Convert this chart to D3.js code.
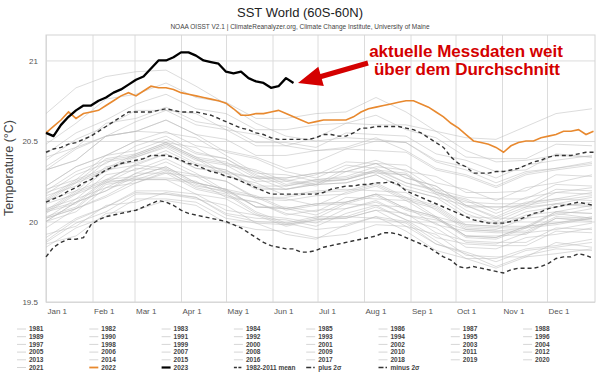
<!DOCTYPE html>
<html>
<head>
<meta charset="utf-8">
<script src="https://cdn.jsdelivr.net/npm/d3@7"></script>
<style>
    body { margin: 0; background: #fff; }
    svg { display: block; font-family: "Liberation Sans", Arial, sans-serif; }
</style>
</head>
<body>
<svg id="chart" width="600" height="382"></svg>
<script>
// month starts (day of year) and their labels
var monthDays = [0, 31, 59, 90, 120, 151, 181, 212, 243, 273, 304, 334];
var monthLabels = ["Jan 1", "Feb 1", "Mar 1", "Apr 1", "May 1", "Jun 1",
    "Jul 1", "Aug 1", "Sep 1", "Oct 1", "Nov 1", "Dec 1"];
var yTicks = [19.5, 20, 20.5, 21];

// sampling days: every 5 days for the highlighted series, ~20 days for the old years
var fineDays = d3.range(0, 366, 5);
var coarseDays = [0, 20, 40, 60, 80, 100, 120, 140, 160, 180, 200, 220, 240, 260, 280, 300, 320, 340, 364];

var meanValues = [20.12, 20.14, 20.16, 20.19, 20.21, 20.24, 20.26, 20.29, 20.32, 20.34,
    20.36, 20.37, 20.38, 20.39, 20.41, 20.41, 20.41, 20.40, 20.38, 20.36,
    20.35, 20.33, 20.31, 20.30, 20.28, 20.27, 20.25, 20.23, 20.21, 20.19,
    20.17, 20.17, 20.17, 20.17, 20.17, 20.17, 20.17, 20.18, 20.20, 20.21,
    20.22, 20.22, 20.23, 20.23, 20.24, 20.24, 20.245, 20.23, 20.19, 20.17,
    20.15, 20.13, 20.11, 20.09, 20.07, 20.05, 20.03, 20.01, 20.00, 19.99,
    19.99, 19.99, 20.00, 20.01, 20.03, 20.05, 20.06, 20.08, 20.09, 20.10,
    20.11, 20.12, 20.11, 20.10];

var plus2sd = [20.43, 20.45, 20.46, 20.48, 20.49, 20.51, 20.53, 20.56, 20.59, 20.62,
    20.65, 20.68, 20.68, 20.68, 20.68, 20.69, 20.70, 20.69, 20.68, 20.68,
    20.68, 20.67, 20.66, 20.64, 20.62, 20.60, 20.58, 20.57, 20.55, 20.54,
    20.52, 20.51, 20.51, 20.51, 20.51, 20.51, 20.52, 20.54, 20.54, 20.53,
    20.53, 20.55, 20.58, 20.58, 20.59, 20.59, 20.59, 20.59, 20.58, 20.57,
    20.55, 20.52, 20.49, 20.46, 20.40, 20.36, 20.34, 20.30, 20.30, 20.30,
    20.31, 20.31, 20.32, 20.33, 20.35, 20.37, 20.38, 20.40, 20.41, 20.41,
    20.41, 20.42, 20.43, 20.43];

var minus2sd = [19.78, 19.84, 19.87, 19.89, 19.89, 19.90, 19.98, 20.01, 20.03, 20.04,
    20.05, 20.06, 20.07, 20.09, 20.11, 20.13, 20.12, 20.10, 20.07, 20.05,
    20.04, 20.03, 20.02, 20.01, 20.00, 19.98, 19.96, 19.93, 19.90, 19.87,
    19.85, 19.84, 19.83, 19.83, 19.81, 19.81, 19.82, 19.84, 19.85, 19.86,
    19.87, 19.88, 19.89, 19.90, 19.91, 19.93, 19.93, 19.92, 19.90, 19.88,
    19.86, 19.84, 19.81, 19.78, 19.76, 19.72, 19.71, 19.72, 19.71, 19.70,
    19.69, 19.68, 19.70, 19.71, 19.71, 19.71, 19.72, 19.74, 19.77, 19.78,
    19.78, 19.80, 19.79, 19.77];

var values2022 = [20.55, 20.59, 20.63, 20.68, 20.64, 20.67, 20.68, 20.69, 20.72, 20.75,
    20.78, 20.80, 20.78, 20.81, 20.84, 20.83, 20.83, 20.82, 20.80, 20.79,
    20.78, 20.77, 20.76, 20.75, 20.735, 20.70, 20.66, 20.66, 20.67, 20.67,
    20.68, 20.69, 20.67, 20.65, 20.63, 20.61, 20.62, 20.63, 20.63, 20.63,
    20.63, 20.65, 20.68, 20.70, 20.71, 20.72, 20.73, 20.74, 20.75, 20.75,
    20.73, 20.71, 20.68, 20.65, 20.61, 20.58, 20.54, 20.50, 20.49, 20.48,
    20.46, 20.43, 20.47, 20.49, 20.50, 20.50, 20.52, 20.53, 20.54, 20.56,
    20.56, 20.57, 20.54, 20.56];

var values2023 = [20.55, 20.53, 20.60, 20.65, 20.69, 20.72, 20.72, 20.75, 20.77, 20.80,
    20.82, 20.85, 20.88, 20.90, 20.95, 21.00, 21.00, 21.02, 21.05, 21.05,
    21.03, 21.00, 20.99, 20.98, 20.93, 20.92, 20.93, 20.89, 20.87, 20.86,
    20.83, 20.84, 20.89, 20.86];

var grayYears = d3.range(1981, 2022);
var grayValues = [
    [19.92, 19.97, 20.10, 20.12, 20.18, 20.15, 20.04, 20.00, 19.99, 19.95, 19.97, 20.03, 20.00, 19.88, 19.77, 19.77, 19.83, 19.85, 19.89],
    [19.88, 20.01, 20.09, 20.19, 20.19, 20.17, 20.07, 20.04, 20.02, 19.99, 20.08, 20.12, 20.04, 20.01, 19.95, 19.94, 19.96, 20.06, 20.05],
    [20.07, 20.19, 20.26, 20.35, 20.33, 20.23, 20.18, 20.06, 19.99, 20.03, 20.03, 20.02, 19.99, 19.86, 19.80, 19.72, 19.79, 19.83, 19.82],
    [19.84, 19.96, 20.03, 20.14, 20.14, 20.12, 20.02, 19.99, 19.92, 19.89, 19.98, 20.03, 19.94, 19.82, 19.77, 19.71, 19.78, 19.80, 19.83],
    [19.86, 19.91, 20.05, 20.07, 20.13, 20.10, 19.99, 19.95, 19.94, 19.90, 19.92, 19.98, 19.97, 19.86, 19.81, 19.75, 19.82, 19.84, 19.87],
    [19.90, 20.02, 20.09, 20.18, 20.17, 20.14, 20.10, 19.99, 19.98, 20.01, 20.02, 20.07, 20.05, 19.93, 19.88, 19.87, 19.87, 19.96, 19.95],
    [20.00, 20.12, 20.19, 20.30, 20.30, 20.28, 20.18, 20.15, 20.14, 20.10, 20.18, 20.23, 20.14, 20.09, 19.97, 19.96, 19.96, 20.05, 20.02],
    [20.06, 20.11, 20.25, 20.26, 20.32, 20.21, 20.17, 20.05, 19.98, 20.02, 20.02, 20.07, 19.97, 19.92, 19.79, 19.78, 19.78, 19.87, 19.84],
    [19.87, 19.99, 20.06, 20.17, 20.17, 20.15, 20.05, 20.02, 20.01, 19.97, 20.05, 20.10, 20.01, 19.96, 19.84, 19.83, 19.90, 19.92, 19.96],
    [20.00, 20.06, 20.21, 20.24, 20.31, 20.22, 20.19, 20.09, 20.09, 20.06, 20.15, 20.14, 20.13, 20.02, 19.91, 19.91, 19.92, 20.02, 20.00],
    [20.03, 20.09, 20.24, 20.27, 20.27, 20.25, 20.15, 20.12, 20.05, 20.02, 20.11, 20.10, 20.09, 19.98, 19.94, 19.93, 19.93, 20.02, 20.01],
    [20.02, 20.08, 20.16, 20.26, 20.26, 20.17, 20.14, 20.04, 19.97, 20.01, 20.03, 20.09, 20.01, 19.90, 19.86, 19.85, 19.85, 19.94, 19.93],
    [19.96, 20.08, 20.15, 20.24, 20.30, 20.20, 20.16, 20.12, 20.04, 20.07, 20.08, 20.13, 20.04, 19.99, 19.87, 19.86, 19.93, 19.95, 19.99],
    [20.00, 20.12, 20.19, 20.28, 20.34, 20.24, 20.20, 20.09, 20.08, 20.11, 20.12, 20.17, 20.15, 20.03, 19.98, 19.97, 19.97, 20.06, 20.05],
    [20.08, 20.14, 20.29, 20.32, 20.39, 20.30, 20.19, 20.15, 20.07, 20.10, 20.11, 20.16, 20.07, 20.02, 19.90, 19.89, 19.96, 19.98, 20.02],
    [20.02, 20.08, 20.23, 20.26, 20.26, 20.24, 20.20, 20.09, 20.08, 20.04, 20.12, 20.17, 20.08, 20.03, 19.91, 19.90, 19.97, 19.99, 20.03],
    [20.06, 20.18, 20.25, 20.36, 20.42, 20.33, 20.31, 20.27, 20.26, 20.23, 20.33, 20.38, 20.31, 20.28, 20.18, 20.18, 20.19, 20.29, 20.28],
    [20.32, 20.45, 20.53, 20.56, 20.63, 20.54, 20.43, 20.39, 20.31, 20.27, 20.35, 20.33, 20.24, 20.19, 20.07, 20.00, 20.08, 20.11, 20.09],
    [20.07, 20.12, 20.26, 20.28, 20.34, 20.24, 20.20, 20.16, 20.08, 20.11, 20.12, 20.17, 20.08, 20.03, 19.91, 19.90, 19.97, 19.99, 20.02],
    [20.05, 20.17, 20.24, 20.33, 20.32, 20.29, 20.25, 20.14, 20.13, 20.16, 20.17, 20.22, 20.13, 20.08, 19.96, 19.95, 20.02, 20.04, 20.08],
    [20.12, 20.24, 20.31, 20.40, 20.46, 20.36, 20.32, 20.21, 20.20, 20.23, 20.24, 20.29, 20.20, 20.15, 20.10, 20.02, 20.09, 20.11, 20.15],
    [20.16, 20.22, 20.37, 20.40, 20.47, 20.38, 20.35, 20.25, 20.25, 20.22, 20.31, 20.30, 20.29, 20.18, 20.14, 20.07, 20.15, 20.18, 20.21],
    [20.22, 20.34, 20.41, 20.50, 20.49, 20.46, 20.35, 20.31, 20.23, 20.26, 20.27, 20.32, 20.30, 20.18, 20.13, 20.05, 20.12, 20.14, 20.18],
    [20.18, 20.24, 20.39, 20.42, 20.49, 20.40, 20.30, 20.27, 20.20, 20.24, 20.26, 20.32, 20.24, 20.20, 20.09, 20.09, 20.10, 20.13, 20.16],
    [20.17, 20.29, 20.36, 20.47, 20.53, 20.43, 20.39, 20.28, 20.27, 20.30, 20.31, 20.36, 20.27, 20.22, 20.10, 20.03, 20.11, 20.14, 20.13],
    [20.13, 20.19, 20.34, 20.37, 20.44, 20.35, 20.32, 20.22, 20.22, 20.25, 20.26, 20.31, 20.29, 20.17, 20.12, 20.11, 20.11, 20.20, 20.19],
    [20.19, 20.31, 20.38, 20.41, 20.48, 20.39, 20.28, 20.24, 20.16, 20.19, 20.20, 20.19, 20.18, 20.07, 19.95, 19.94, 19.94, 20.03, 20.02],
    [20.02, 20.14, 20.21, 20.30, 20.37, 20.28, 20.25, 20.15, 20.15, 20.18, 20.19, 20.24, 20.15, 20.10, 19.98, 19.97, 20.04, 20.06, 20.10],
    [20.13, 20.25, 20.32, 20.41, 20.48, 20.39, 20.36, 20.32, 20.25, 20.29, 20.37, 20.36, 20.35, 20.24, 20.20, 20.13, 20.21, 20.24, 20.29],
    [20.32, 20.38, 20.53, 20.56, 20.55, 20.52, 20.41, 20.30, 20.29, 20.25, 20.26, 20.31, 20.22, 20.17, 20.05, 19.98, 20.06, 20.09, 20.12],
    [20.11, 20.17, 20.32, 20.35, 20.42, 20.33, 20.30, 20.20, 20.20, 20.23, 20.24, 20.29, 20.20, 20.15, 20.03, 20.02, 20.02, 20.11, 20.10],
    [20.14, 20.26, 20.33, 20.42, 20.49, 20.40, 20.37, 20.27, 20.27, 20.30, 20.31, 20.36, 20.27, 20.22, 20.10, 20.09, 20.09, 20.18, 20.17],
    [20.20, 20.26, 20.41, 20.44, 20.51, 20.42, 20.39, 20.29, 20.22, 20.26, 20.28, 20.34, 20.32, 20.20, 20.15, 20.14, 20.14, 20.23, 20.22],
    [20.22, 20.34, 20.41, 20.50, 20.56, 20.47, 20.44, 20.40, 20.33, 20.37, 20.45, 20.44, 20.43, 20.32, 20.28, 20.21, 20.29, 20.32, 20.35],
    [20.34, 20.46, 20.53, 20.62, 20.69, 20.60, 20.57, 20.54, 20.47, 20.52, 20.61, 20.60, 20.60, 20.56, 20.52, 20.51, 20.59, 20.67, 20.70],
    [20.67, 20.83, 20.90, 20.93, 20.94, 20.84, 20.73, 20.61, 20.53, 20.50, 20.52, 20.51, 20.49, 20.37, 20.32, 20.24, 20.31, 20.33, 20.37],
    [20.38, 20.51, 20.59, 20.69, 20.69, 20.67, 20.57, 20.47, 20.47, 20.44, 20.46, 20.52, 20.44, 20.33, 20.29, 20.22, 20.30, 20.33, 20.36],
    [20.32, 20.38, 20.53, 20.56, 20.63, 20.54, 20.51, 20.41, 20.41, 20.44, 20.45, 20.50, 20.49, 20.38, 20.34, 20.27, 20.35, 20.38, 20.41],
    [20.42, 20.55, 20.63, 20.73, 20.79, 20.70, 20.67, 20.57, 20.57, 20.60, 20.61, 20.66, 20.57, 20.52, 20.40, 20.39, 20.39, 20.48, 20.47],
    [20.48, 20.61, 20.76, 20.79, 20.86, 20.77, 20.74, 20.64, 20.64, 20.67, 20.68, 20.77, 20.68, 20.56, 20.44, 20.37, 20.38, 20.41, 20.40],
    [20.40, 20.46, 20.61, 20.64, 20.71, 20.62, 20.59, 20.49, 20.49, 20.46, 20.55, 20.54, 20.53, 20.42, 20.38, 20.31, 20.32, 20.42, 20.40]
];

var svg = d3.select("#chart");
var plotLeft = 46, plotRight = 595, plotTop = 35, plotBottom = 302;
var x = d3.scaleLinear().domain([0, 366]).range([plotLeft, plotRight]);
var y = d3.scaleLinear().domain([19.5, 21.158]).range([plotBottom, plotTop]);

function lineOn(days) {
    return d3.line()
        .x(function (d, i) { return x(days[i]); })
        .y(function (d) { return y(d); });
}

// titles
svg.append("text")
    .attr("x", 300).attr("y", 17)
    .attr("text-anchor", "middle")
    .attr("font-size", 13)
    .attr("fill", "#222")
    .text("SST World (60S-60N)");
svg.append("text")
    .attr("x", 300).attr("y", 29)
    .attr("text-anchor", "middle")
    .attr("font-size", 6.5)
    .attr("fill", "#444")
    .text("NOAA OISST V2.1 | ClimateReanalyzer.org, Climate Change Institute, University of Maine");

// axes with grid lines
var xAxis = svg.append("g")
    .attr("transform", "translate(0," + plotBottom + ")")
    .call(d3.axisBottom(x)
        .tickValues(monthDays)
        .tickFormat(function (d, i) { return monthLabels[i]; })
        .tickSize(-(plotBottom - plotTop))
        .tickPadding(6.5));
var yAxis = svg.append("g")
    .attr("transform", "translate(" + plotLeft + ",0)")
    .call(d3.axisLeft(y)
        .tickValues(yTicks)
        .tickFormat(d3.format(""))
        .tickSize(-(plotRight - plotLeft))
        .tickPadding(8));
svg.selectAll(".domain").remove();
svg.selectAll(".tick line").attr("stroke", "#dcdcdc");
svg.selectAll(".tick text")
    .attr("font-family", "'Liberation Sans', Arial, sans-serif")
    .attr("font-size", 8)
    .attr("fill", "#555");
xAxis.selectAll(".tick text").attr("text-anchor", "start").attr("dx", 1);

svg.append("rect")
    .attr("x", plotLeft).attr("y", plotTop)
    .attr("width", plotRight - plotLeft).attr("height", plotBottom - plotTop)
    .attr("fill", "none")
    .attr("stroke", "#d4d4d4");

svg.append("text")
    .attr("transform", "translate(13," + 168 + ") rotate(-90)")
    .attr("text-anchor", "middle")
    .attr("font-size", 12.5)
    .attr("fill", "#444")
    .text("Temperature (°C)");

// old years
svg.append("g")
    .selectAll("path")
    .data(grayValues)
    .join("path")
    .attr("d", lineOn(coarseDays))
    .attr("fill", "none")
    .attr("stroke", "#bcbcbc")
    .attr("stroke-opacity", 0.75)
    .attr("stroke-width", 0.7);

// mean and +/- 2 sigma
[meanValues, plus2sd, minus2sd].forEach(function (vals) {
    svg.append("path")
        .attr("d", lineOn(fineDays)(vals))
        .attr("fill", "none")
        .attr("stroke", "#333")
        .attr("stroke-width", 1.4)
        .attr("stroke-dasharray", "4,3");
});

svg.append("path")
    .attr("d", lineOn(fineDays)(values2022))
    .attr("fill", "none")
    .attr("stroke", "#e8892f")
    .attr("stroke-width", 1.6);

svg.append("path")
    .attr("d", lineOn(fineDays)(values2023))
    .attr("fill", "none")
    .attr("stroke", "#000")
    .attr("stroke-width", 2.3)
    .attr("stroke-linejoin", "round");

// annotation
var red = "#d40000";
var tipX = x(168), tipY = y(20.86);
var tail = [tipX + 70, tipY - 20];
var len = Math.hypot(tail[0] - tipX, tail[1] - tipY);
var ux = (tail[0] - tipX) / len, uy = (tail[1] - tipY) / len;
var nx = -uy, ny = ux;
var headL = 24, headW = 10, shaftW = 2.6;
var bx = tipX + ux * headL, by = tipY + uy * headL;
svg.append("polygon")
    .attr("points", [
        [tipX, tipY],
        [bx + nx * headW, by + ny * headW],
        [bx + nx * shaftW, by + ny * shaftW],
        [tail[0] + nx * shaftW, tail[1] + ny * shaftW],
        [tail[0] - nx * shaftW, tail[1] - ny * shaftW],
        [bx - nx * shaftW, by - ny * shaftW],
        [bx - nx * headW, by - ny * headW]
    ].map(function (p) { return p.join(","); }).join(" "))
    .attr("fill", red);

svg.append("text")
    .attr("x", 466).attr("y", 57)
    .attr("text-anchor", "middle")
    .attr("font-size", 17)
    .attr("font-weight", "bold")
    .attr("fill", red)
    .text("aktuelle Messdaten weit");
svg.append("text")
    .attr("x", 467).attr("y", 75)
    .attr("text-anchor", "middle")
    .attr("font-size", 17)
    .attr("font-weight", "bold")
    .attr("fill", red)
    .text("über dem Durchschnitt");

// legend
var legendItems = grayYears.map(function (yr) {
    return { label: String(yr), color: "#d6d6d6", width: 1, dash: null };
}).concat([
    { label: "2022", color: "#e8892f", width: 1.8, dash: null },
    { label: "2023", color: "#000", width: 2.2, dash: null },
    { label: "1982-2011 mean", color: "#333", width: 1.3, dash: "3,1.5" },
    { label: "plus 2σ", color: "#333", width: 1.3, dash: "5,2,1.5" },
    { label: "minus 2σ", color: "#333", width: 1.3, dash: "5,2,1.5" }
]);

var legend = svg.append("g")
    .selectAll("g")
    .data(legendItems)
    .join("g")
    .attr("transform", function (d, i) {
        return "translate(" + (17 + (i % 8) * 72.3) + "," + (329 + Math.floor(i / 8) * 7.7) + ")";
    });
legend.append("line")
    .attr("x1", 0).attr("x2", 9)
    .attr("stroke", function (d) { return d.color; })
    .attr("stroke-width", function (d) { return d.width; })
    .attr("stroke-dasharray", function (d) { return d.dash; });
legend.append("text")
    .attr("x", 12).attr("y", 2.3)
    .attr("font-size", 6.5)
    .attr("font-weight", "bold")
    .attr("fill", "#444")
    .text(function (d) { return d.label; });
</script>
</body>
</html>
